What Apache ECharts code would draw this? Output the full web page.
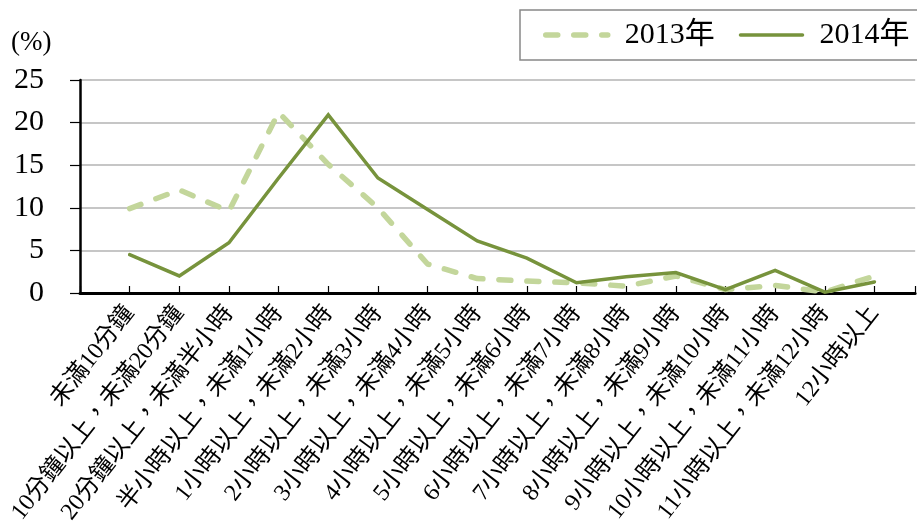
<html>
<head>
    <meta charset="utf-8">
    <script src="https://cdn.jsdelivr.net/npm/echarts@6/dist/echarts.min.js"></script>
    <title>chart</title>
    <style>
        html, body { margin: 0; padding: 0; background: #ffffff; }
    </style>
</head>
<body>
    <div id="main" style="width: 917px; height: 532px;"></div>
    <script>
        // 各區間（時間）
        const categories = [
            '未滿10分鐘', '10分鐘以上，未滿20分鐘', '20分鐘以上，未滿半小時',
            '半小時以上，未滿1小時', '1小時以上，未滿2小時', '2小時以上，未滿3小時',
            '3小時以上，未滿4小時', '4小時以上，未滿5小時', '5小時以上，未滿6小時',
            '6小時以上，未滿7小時', '7小時以上，未滿8小時', '8小時以上，未滿9小時',
            '9小時以上，未滿10小時', '10小時以上，未滿11小時', '11小時以上，未滿12小時',
            '12小時以上'
        ];
        const seriesNames = ['2013年', '2014年'];
        const values2013 = [9.9, 12.1, 9.6, 21.2, 15.1, 10.0, 3.4, 1.7, 1.4, 1.2, 0.8, 2.0, 0.4, 0.9, 0.1, 2.0];
        const values2014 = [4.5, 2.0, 5.9, 13.5, 20.9, 13.5, 9.8, 6.1, 4.1, 1.2, 1.9, 2.4, 0.4, 2.65, 0.1, 1.3];
        const yTicks = [0, 5, 10, 15, 20, 25];

        const serifFont = "'Liberation Serif', 'Times New Roman', 'Noto Sans CJK TC', serif";
        const toPoints = (vals) => vals.map((v, i) => [i, v]);
        const color2013 = '#c3d69b';
        const color2014 = '#77933c';

        var myChart = echarts.init(document.getElementById('main'));
        const option = {
            backgroundColor: '#FFFFFF',
            animation: false,
            title: {
                text: '(%)',
                left: 6,
                top: 24,
                textStyle: { fontFamily: serifFont, fontSize: 27, fontWeight: 'normal', color: '#000' }
            },
            legend: {
                orient: 'horizontal',
                left: 520,
                top: 10,
                width: 440,
                padding: [10, 40, 10, 23],
                borderColor: '#888',
                borderWidth: 1.5,
                itemWidth: 62,
                itemHeight: 14,
                itemGap: 24,
                itemStyle: { opacity: 0 },
                textStyle: { fontFamily: serifFont, fontSize: 30, color: '#000', padding: [0, 0, 0, 12] },
                data: [
                    { name: seriesNames[0], lineStyle: { width: 5.5 } },
                    { name: seriesNames[1], lineStyle: { width: 3.5 } }
                ]
            },
            grid: {
                left: 80,
                right: 0,
                top: 80,
                bottom: 239,
                containLabel: false
            },
            xAxis: {
                type: 'value',
                min: -1,
                max: 15.82,
                interval: 1,
                splitLine: { show: false },
                axisLine: { show: true, onZero: false, lineStyle: { color: '#000', width: 3 } },
                axisTick: { show: true, inside: true, length: 7, lineStyle: { color: '#000', width: 1.2 } },
                axisLabel: {
                    rotate: 52,
                    margin: 16,
                    fontFamily: serifFont,
                    fontSize: 24,
                    color: '#000',
                    formatter: (v) => {
                        const i = Math.round(v);
                        return (Math.abs(v - i) < 1e-6 && i >= 0 && i < categories.length) ? categories[i] : '';
                    }
                }
            },
            yAxis: {
                type: 'value',
                min: yTicks[0],
                max: yTicks[yTicks.length - 1],
                interval: 5,
                axisLine: { show: true, onZero: false, lineStyle: { color: '#000', width: 2.5 } },
                axisTick: { show: true, inside: false, length: 10, lineStyle: { color: '#000', width: 1.2 } },
                axisLabel: { margin: 36, fontFamily: serifFont, fontSize: 30, color: '#000' },
                splitLine: { show: true, lineStyle: { color: '#b3b3b3', width: 1.5 } }
            },
            //配置属性
            series: [{
                name: seriesNames[0],
                type: 'line',
                data: toPoints(values2013),
                symbol: 'none',
                itemStyle: { color: color2013 },
                lineStyle: { color: color2013, width: 5.5, type: [12, 16], cap: 'round', join: 'round' },
                z: 2
            }, {
                name: seriesNames[1],
                type: 'line',
                data: toPoints(values2014),
                symbol: 'none',
                itemStyle: { color: color2014 },
                lineStyle: { color: color2014, width: 3.5, cap: 'round', join: 'miter' },
                z: 3
            }]
        };
        myChart.setOption(option);
    </script>
</body>
</html>
